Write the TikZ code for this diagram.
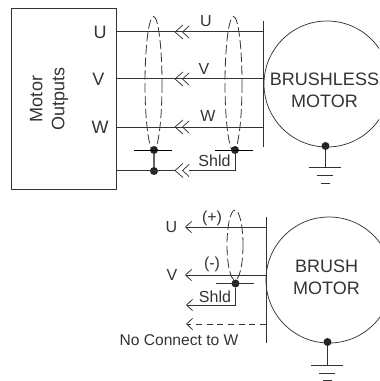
\documentclass[tikz,border=0pt]{standalone}
\usepackage{fontspec}
\setmainfont{Liberation Sans}
\usetikzlibrary{arrows.meta}
\definecolor{ink}{gray}{0.2}
\tikzset{
  x=0.75pt,y=-0.75pt,
  wire/.style={draw=ink,line width=0.75pt},
  thin wire/.style={draw=ink,line width=0.55pt},
  shield/.style={draw=ink,line width=0.6pt,dash pattern=on 7pt off 2.6pt},
  dotj/.style={circle,fill=black!85,inner sep=0pt,minimum size=6pt},
  big/.style={font=\fontsize{13.5pt}{16.5pt}\selectfont,align=center,text=ink,inner sep=0pt},
  small/.style={font=\fontsize{12pt}{14pt}\selectfont,text=ink,inner sep=0pt},
  barb/.style={-{Straight Barb[length=4.5pt,width=8.5pt,line width=0.6pt]}},
  chev/.pic={\draw[thin wire] (8,-7)--(0,0)--(8,7) (14,-6)--(7.5,0)--(14,6);},
}
\begin{document}
\begin{tikzpicture}
\useasboundingbox (0,0) rectangle (379,381);
% drive box
\node[draw=ink,line width=0.75pt,minimum width=78.75pt,minimum height=135.75pt,inner sep=0pt,anchor=north west] (box) at (11,8) {};
\node[big,rotate=90] (mo) at (49,99) {Motor\\Outputs};
\node[big] (tu) at (100,32) {U};
\node[big] (tv) at (98.5,79) {V};
\node[big] (tw) at (100,127) {W};
% upper motor
\begin{scope}
\clip (0,0) rectangle (379,381);
\node[draw=ink,line width=0.55pt,circle,minimum size=94.5pt,inner sep=0pt] (m1) at (327,84) {};
\end{scope}
\node[big] (m1t) at (324.5,90) {BRUSHLESS\\MOTOR};
\coordinate (bus1a) at (263,21); \coordinate (bus1b) at (263,147);
\draw[wire] (bus1a)--(bus1b);
\coordinate (bu) at (263,32); \coordinate (bv) at (263,79); \coordinate (bw) at (263,127);
\coordinate (lu) at (116,32); \coordinate (lv) at (116,79); \coordinate (lw) at (116,127);
\coordinate (cu) at (175,32); \coordinate (cv) at (175,79); \coordinate (cw) at (175,127); \coordinate (cs) at (175,170.5);
\draw[wire] (lu)--(bu) (lv)--(bv) (lw)--(bw);
\pic at (cu) {chev}; \pic at (cv) {chev}; \pic at (cw) {chev}; \pic at (cs) {chev};
\node[small] (lbu) at (206,21) {U};
\node[small] (lbv) at (204,69) {V};
\node[small] (lbw) at (208,116) {W};
\node[small] (lbs) at (214.5,161) {Shld};
% shields
\draw[shield] (153.5,83.5) ellipse [x radius=8.5,y radius=67];
\draw[shield] (233.5,83.5) ellipse [x radius=8.5,y radius=67];
\node[dotj] (j1) at (154,150) {};
\node[dotj] (j2) at (154,171) {};
\node[dotj] (j3) at (235,150) {};
\coordinate (s1a) at (134,150); \coordinate (s1b) at (172,150);
\coordinate (s2a) at (215,150); \coordinate (s2b) at (253,150);
\draw[wire,draw=black] (s1a)--(s1b) (s2a)--(s2b);
\draw[wire,line width=1pt,draw=black!60] (j1)--(j2);
\coordinate (ls) at (116,170.5);
\draw[wire] (ls)--(cs);
\draw[wire] (189,170.5)--(235,170.5)--(j3);
% ground 1
\node[dotj] (g1) at (325.5,146) {};
\coordinate (g1b) at (325.5,167);
\draw[wire] (g1)--(g1b);
\draw[wire] (309,167)--(341,167) (317,175)--(333,175) (321,183)--(330,183);
% lower motor
\node[draw=ink,line width=0.55pt,circle,minimum size=94.5pt,inner sep=0pt] (m2) at (329,280) {};
\node[big] (m2t) at (326.5,277) {BRUSH\\MOTOR};
\coordinate (bus2a) at (266,217); \coordinate (bus2b) at (266,343);
\draw[wire] (bus2a)--(bus2b);
\node[small] (l2u) at (171.5,227) {U};
\node[small] (l2v) at (172,275) {V};
\coordinate (b2u) at (266,227); \coordinate (b2v) at (266,275); \coordinate (b2d) at (266,324);
\draw[wire,barb] (b2u)--(185,227);
\draw[wire,barb] (b2v)--(185,275);
\draw[shield] (235,245) ellipse [x radius=8,y radius=35];
\node[dotj] (j4) at (235.5,283.5) {};
\coordinate (s3a) at (216,283.5); \coordinate (s3b) at (254,283.5);
\draw[wire] (s3a)--(s3b);
\coordinate (sl) at (186,305);
\draw[wire,barb] (j4)--(235.5,305)--(sl);
\draw[wire,barb,dash pattern=on 4.5pt off 3.5pt] (b2d)--(186,324);
\node[small] (lp) at (212,218) {(+)};
\node[small] (lm) at (212,264) {(-)};
\node[small] (ls2) at (215,296.5) {Shld};
\node[small,font=\fontsize{11.7pt}{14pt}\selectfont] (nc) at (179,340.5) {No Connect to W};
% ground 2
\node[dotj] (g2) at (327.5,342) {};
\coordinate (g2b) at (327.5,365);
\draw[wire] (g2)--(g2b);
\draw[wire] (311,365)--(343,365) (319,373)--(335,373) (323,380.5)--(332,380.5);
\end{tikzpicture}
\end{document}
